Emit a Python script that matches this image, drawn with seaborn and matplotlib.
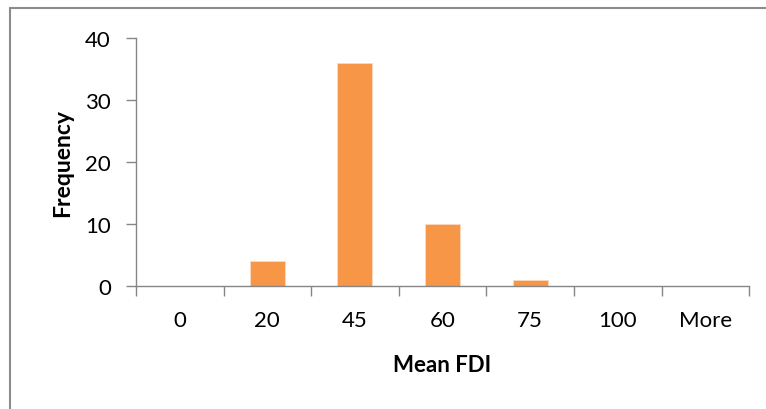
import matplotlib
matplotlib.use("Agg")
import matplotlib.pyplot as plt
import seaborn as sns
import pandas as pd
from matplotlib.lines import Line2D
from matplotlib.ticker import FixedLocator

categories = ["0", "20", "45", "60", "75", "100", "More"]
frequency = [0, 4, 36, 10, 1, 0, 0]

sns.set_theme(style="white")
plt.rcParams['font.family'] = ['Lato', 'DejaVu Sans']

df = pd.DataFrame({"Mean FDI": categories, "Frequency": frequency})

fig = plt.figure(figsize=(7.66, 4.10), dpi=100)
ax = fig.add_axes([0.1775, 0.30, 0.8005, 0.605])
sns.barplot(data=df, x="Mean FDI", y="Frequency", color="#F79646", width=0.4,
            saturation=1, edgecolor="#FCD9C0", linewidth=0.6, ax=ax)

ax.set_xlim(-0.5, len(categories) - 0.5)
ax.set_ylim(0, 40)
ax.set_yticks([0, 10, 20, 30, 40])
ax.xaxis.set_minor_locator(FixedLocator([i - 0.5 for i in range(len(categories) + 1)]))
ax.tick_params(axis="x", which="major", length=0, pad=17, labelsize=16, colors="#000000")
ax.tick_params(axis="x", which="minor", length=7, width=1, color="#868686", direction="out", bottom=True)
ax.tick_params(axis="y", length=7, width=1, color="#868686", direction="out", left=True,
               labelsize=16, pad=11, labelcolor="#000000")

for s in ["top", "right"]:
    ax.spines[s].set_visible(False)
for s in ["left", "bottom"]:
    ax.spines[s].set_color("#868686")
    ax.spines[s].set_linewidth(1)

ax.set_xlabel("Mean FDI", fontsize=16, fontweight="bold", color="#000000")
ax.set_ylabel("Frequency", fontsize=16.5, fontweight="bold", color="#000000")
ax.xaxis.set_label_coords(0.5, (287 - 365) / 248)
ax.xaxis.label.set_va("center")
ax.yaxis.set_label_coords((63 - 136) / 613, 0.5)
ax.yaxis.label.set_va("center")

# outer chart border (top and left visible)
fig.add_artist(Line2D([10/766, 1.0], [1 - 9/410, 1 - 9/410], transform=fig.transFigure,
                      color="#8c8c8c", linewidth=1.5))
fig.add_artist(Line2D([10/766, 10/766], [1 - 9/410, 0.0], transform=fig.transFigure,
                      color="#8c8c8c", linewidth=1.5))

fig.savefig("out.png", dpi=100, facecolor="white")
